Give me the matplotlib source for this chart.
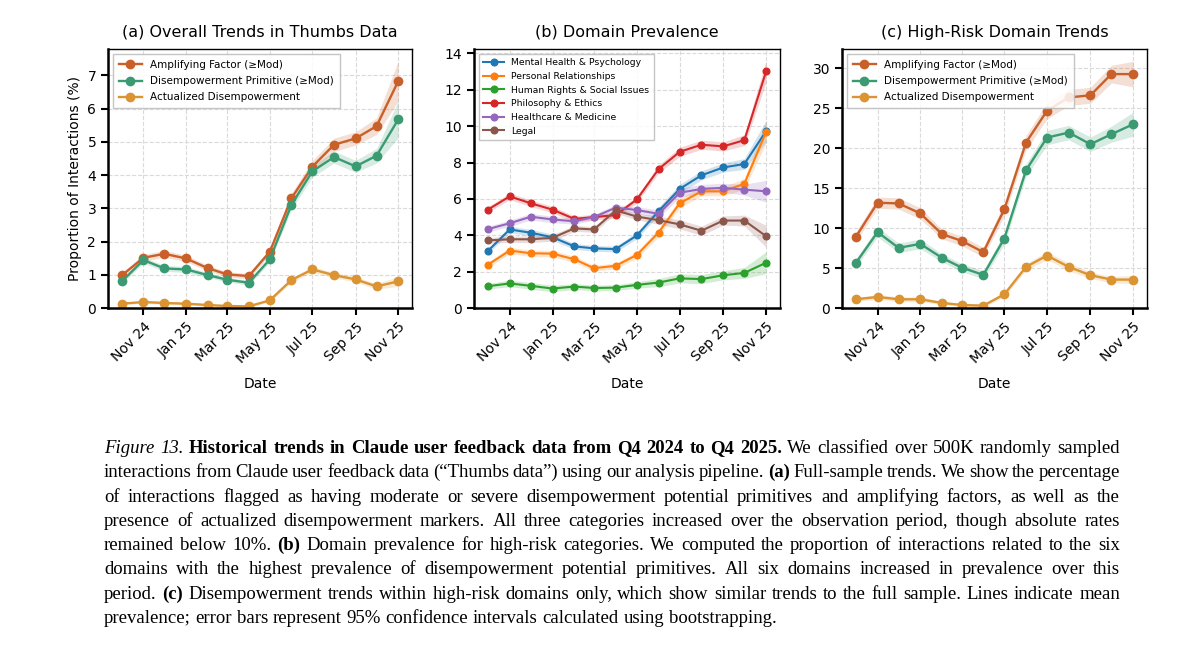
import numpy as np
import pandas as pd
import matplotlib
matplotlib.use("Agg")
import matplotlib.pyplot as plt
import matplotlib.dates as mdates

# ---- data ----
months = pd.date_range("2024-10-01", "2025-11-01", freq="MS")

series_names = ["Amplifying Factor (\u2265Mod)", "Disempowerment Primitive (\u2265Mod)",
                "Actualized Disempowerment"]
series_colors = ["#c9602a", "#3a9b73", "#dc9433"]

thumbs_amp = [0.98, 1.51, 1.63, 1.49, 1.20, 1.01, 0.96, 1.69, 3.30, 4.25, 4.91, 5.10, 5.47, 6.82]
thumbs_dis = [0.80, 1.44, 1.19, 1.16, 0.99, 0.85, 0.76, 1.46, 3.10, 4.11, 4.54, 4.26, 4.58, 5.67]
thumbs_act = [0.13, 0.18, 0.15, 0.13, 0.09, 0.06, 0.05, 0.23, 0.84, 1.16, 0.99, 0.86, 0.65, 0.80]
thumbs_amp_ci = [0.08, 0.10, 0.10, 0.10, 0.08, 0.08, 0.08, 0.10, 0.15, 0.18, 0.20, 0.20, 0.25, 0.60]
thumbs_dis_ci = [0.07, 0.09, 0.09, 0.09, 0.07, 0.07, 0.07, 0.09, 0.14, 0.17, 0.18, 0.18, 0.22, 0.55]
thumbs_act_ci = [0.03, 0.04, 0.04, 0.04, 0.03, 0.03, 0.03, 0.05, 0.07, 0.08, 0.08, 0.08, 0.08, 0.15]

domain_names = ["Mental Health & Psychology", "Personal Relationships",
                "Human Rights & Social Issues", "Philosophy & Ethics",
                "Healthcare & Medicine", "Legal"]
domain_colors = ["#1f77b4", "#ff7f0e", "#2ca02c", "#d62728", "#9467bd", "#8c564b"]
dom_mental = [3.14, 4.32, 4.14, 3.89, 3.39, 3.28, 3.24, 3.99, 5.33, 6.55, 7.30, 7.73, 7.92, 9.73]
dom_personal = [2.38, 3.16, 3.01, 2.99, 2.68, 2.19, 2.32, 2.92, 4.15, 5.76, 6.42, 6.42, 6.83, 9.69]
dom_rights = [1.20, 1.35, 1.22, 1.07, 1.18, 1.10, 1.12, 1.27, 1.40, 1.63, 1.59, 1.80, 1.93, 2.49]
dom_philo = [5.41, 6.14, 5.76, 5.41, 4.90, 5.00, 5.11, 5.97, 7.64, 8.59, 8.98, 8.89, 9.23, 13.01]
dom_health = [4.34, 4.66, 5.02, 4.87, 4.77, 5.00, 5.52, 5.39, 5.18, 6.34, 6.55, 6.61, 6.51, 6.42]
dom_legal = [3.72, 3.78, 3.78, 3.86, 4.38, 4.32, 5.37, 5.03, 4.83, 4.60, 4.25, 4.81, 4.81, 3.95]
dom_ci = [0.15, 0.18, 0.18, 0.18, 0.16, 0.16, 0.16, 0.18, 0.22, 0.25, 0.25, 0.25, 0.30, 0.60]

risk_amp = [8.90, 13.16, 13.08, 11.83, 9.24, 8.40, 6.98, 12.33, 20.69, 24.66, 26.33, 26.60, 29.25, 29.25]
risk_dis = [5.64, 9.49, 7.52, 8.02, 6.27, 5.06, 4.14, 8.69, 17.22, 21.31, 21.94, 20.48, 21.73, 22.98]
risk_act = [1.09, 1.38, 1.09, 1.09, 0.63, 0.38, 0.29, 1.71, 5.14, 6.56, 5.14, 4.10, 3.55, 3.55]
risk_amp_ci = [0.6, 0.7, 0.7, 0.7, 0.6, 0.6, 0.6, 0.8, 0.9, 1.0, 1.0, 1.0, 1.1, 1.6]
risk_dis_ci = [0.5, 0.6, 0.6, 0.6, 0.5, 0.5, 0.5, 0.7, 0.8, 0.9, 0.9, 0.9, 1.0, 1.5]
risk_act_ci = [0.25, 0.3, 0.3, 0.3, 0.2, 0.2, 0.2, 0.3, 0.4, 0.5, 0.5, 0.4, 0.4, 0.5]

titles = ["(a) Overall Trends in Thumbs Data", "(b) Domain Prevalence",
          "(c) High-Risk Domain Trends"]

W, H = 1200, 663
fig = plt.figure(figsize=(W / 100, H / 100), dpi=100)


def style_axis(ax, title):
    ax.set_title(title, fontsize=11.5, pad=9)
    ax.grid(True, linestyle="--", color="#dadada", linewidth=0.8)
    ax.set_axisbelow(True)
    for side in ["left", "bottom"]:
        ax.spines[side].set_linewidth(1.8)
    for side in ["top", "right"]:
        ax.spines[side].set_linewidth(1.0)
    ax.tick_params(direction="out", length=5, width=1.5, labelsize=10)
    ax.xaxis.set_major_locator(mdates.MonthLocator(bymonth=[1, 3, 5, 7, 9, 11]))
    ax.xaxis.set_major_formatter(mdates.DateFormatter("%b %y"))
    for lab in ax.get_xticklabels():
        lab.set_rotation(45)
        lab.set_ha("right")
        lab.set_rotation_mode("anchor")
    ax.set_xlabel("Date", fontsize=10, labelpad=8)
    ax.set_ylim(bottom=0)


def plot_series(ax, vals, cis, names, colors, ms, lw):
    for v, c, n, col in zip(vals, cis, names, colors):
        v = np.array(v)
        c = np.array(c)
        ax.fill_between(months, v - c, v + c, color=col, alpha=0.2, linewidth=0)
        ax.plot(months, v, marker="o", ms=ms, lw=lw, color=col, label=n)


axes = [fig.add_axes([108 / W, 1 - 308 / H, 304 / W, 259 / H]),
        fig.add_axes([474 / W, 1 - 308 / H, 306 / W, 259 / H]),
        fig.add_axes([842 / W, 1 - 308 / H, 305 / W, 259 / H])]

plot_series(axes[0], [thumbs_amp, thumbs_dis, thumbs_act],
            [thumbs_amp_ci, thumbs_dis_ci, thumbs_act_ci],
            series_names, series_colors, 6, 1.7)
plot_series(axes[1], [dom_mental, dom_personal, dom_rights, dom_philo, dom_health, dom_legal],
            [dom_ci] * 6, domain_names, domain_colors, 4.8, 1.5)
plot_series(axes[2], [risk_amp, risk_dis, risk_act],
            [risk_amp_ci, risk_dis_ci, risk_act_ci],
            series_names, series_colors, 6, 1.7)

# fontsize, labelspacing, borderpad per panel
legend_opts = [(7.5, 0.6, 0.55), (6.7, 0.5, 0.5), (7.5, 0.6, 0.55)]
for ax, t, (fs, ls, bp) in zip(axes, titles, legend_opts):
    style_axis(ax, t)
    ax.legend(loc="upper left", fontsize=fs, handlelength=2.2, borderpad=bp,
              labelspacing=ls, framealpha=0.85, edgecolor="#bbbbbb", fancybox=False)
axes[0].set_yticks(range(0, 8))
axes[0].set_ylabel("Proportion of Interactions (%)", fontsize=10)

# ---- caption, justified word by word ----
caption = [
    [("Figure 13.", "italic"), ("Historical trends in Claude user feedback data from Q4 2024 to Q4 2025.", "bold"),
     ("We classified over 500K randomly sampled", "normal")],
    [("interactions from Claude user feedback data (\u201cThumbs data\u201d) using our analysis pipeline.", "normal"),
     ("(a)", "bold"), ("Full-sample trends. We show the percentage", "normal")],
    [("of interactions flagged as having moderate or severe disempowerment potential primitives and amplifying factors, as well as the", "normal")],
    [("presence of actualized disempowerment markers. All three categories increased over the observation period, though absolute rates", "normal")],
    [("remained below 10%.", "normal"), ("(b)", "bold"),
     ("Domain prevalence for high-risk categories. We computed the proportion of interactions related to the six", "normal")],
    [("domains with the highest prevalence of disempowerment potential primitives.  All six domains increased in prevalence over this", "normal")],
    [("period.", "normal"), ("(c)", "bold"),
     ("Disempowerment trends within high-risk domains only, which show similar trends to the full sample. Lines indicate mean", "normal")],
    [("prevalence; error bars represent 95% confidence intervals calculated using bootstrapping.", "normal")],
]

x0, x1 = 104, 1120
y_first, dy = 453, 24.3
cap_size = 13.5
renderer = fig.canvas.get_renderer()


def word_artist(word, style, x, y):
    kw = dict(fontsize=cap_size, family="Liberation Serif", va="baseline", ha="left")
    if style == "italic":
        kw["style"] = "italic"
    elif style == "bold":
        kw["weight"] = "bold"
    return fig.text(x / W, 1 - y / H, word, **kw)


t = word_artist("a a", "normal", 0, 0)
t2 = word_artist("aa", "normal", 0, 0)
space_w = t.get_window_extent(renderer).width - t2.get_window_extent(renderer).width
t.remove()
t2.remove()

for i, segs in enumerate(caption):
    y = y_first + i * dy
    words = [(w, s) for txt, s in segs for w in txt.split()]
    arts = [word_artist(w, s, 0, y) for w, s in words]
    widths = [a.get_window_extent(renderer).width for a in arts]
    last = i == len(caption) - 1
    gap = space_w if last else (x1 - x0 - sum(widths)) / (len(words) - 1)
    x = x0
    for a, w in zip(arts, widths):
        a.set_x(x / W)
        x += w + gap

fig.savefig("out.png", dpi=100)
